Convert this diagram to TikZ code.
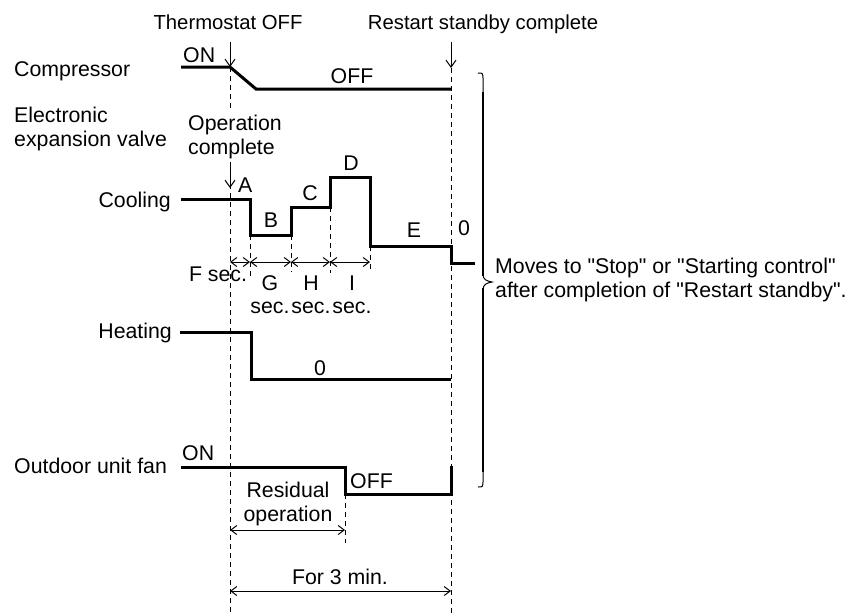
\documentclass[tikz,border=0pt]{standalone}
\usepackage{fontspec}
\setmainfont{Liberation Sans}
\usetikzlibrary{arrows.meta}

\begin{document}
\begin{tikzpicture}[
    x=1pt, y=-1pt,
    every node/.style={font=\fontsize{21.3}{24.5}\selectfont, inner sep=0pt},
    header/.style={font=\fontsize{20.3}{24}\selectfont, anchor=base},
    signal/.style={line width=3pt},
    guide/.style={line width=1pt, dash pattern=on 5pt off 4pt},
    marker/.style={-{Straight Barb[length=7pt, width=10pt]}, line width=1pt},
    span/.style={{Straight Barb[length=6pt, width=9pt]}-{Straight Barb[length=6pt, width=9pt]}, line width=1pt},
    hook/.style={line width=1pt},
    bar/.style={line width=2.6pt},
]

%% --- Canvas ---
\fill[white] (0,0) rectangle (850,614);
\useasboundingbox (0,0) rectangle (850,614);

%% --- Event headers ---
\node[header] (thermo) at (228,29) {Thermostat OFF};
\node[header] (restart) at (483,29) {Restart standby complete};

%% --- Time marks ---
\coordinate (offtop) at (230,42);
\coordinate (off) at (230,67);
\coordinate (offbot) at (230,614);
\coordinate (rsttop) at (451,42);
\coordinate (rst) at (451,68);
\coordinate (rstbot) at (451,614);

\draw[guide] (off) -- (offbot);
\draw[guide] (rst) -- (rstbot);
\draw[marker] (offtop) -- (off);
\draw[marker] (rsttop) -- (rst);

%% --- Row labels ---
\node[anchor=base west] (comp) at (14,76) {Compressor};
\node[anchor=west, align=left] (eev) at (14,129) {Electronic\\expansion valve};
\node[anchor=base east] (cool) at (171,207) {Cooling};
\node[anchor=base east] (heat) at (172,338) {Heating};
\node[anchor=base west] (fan) at (14,473) {Outdoor unit fan};

%% --- Compressor ---
\draw[signal] (181,67) -- (230,67) -- (256,89) -- (451,89);
\node[anchor=base west] (compon) at (183,62) {ON};
\node[anchor=base] (compoff) at (352,83) {OFF};

%% --- Expansion valve: cooling ---
\node[anchor=west, align=left, fill=white, inner ysep=4pt] (opdone) at (188,137) {Operation\\complete};
\coordinate (opstart) at (230,162);
\coordinate (opend) at (230,188);
\draw[marker] (opstart) -- (opend);
\node[anchor=base west] (stepa) at (238,192) {A};

\draw[signal] (181,199) -- (250,199) -- (250,235) -- (291,235) -- (291,207)
    -- (330,207) -- (330,177) -- (370,177) -- (370,246) -- (451,246)
    -- (451,263) -- (475,263);
\node[anchor=base] (stepb) at (271,227) {B};
\node[anchor=base] (stepc) at (310,200) {C};
\node[anchor=base] (stepd) at (351,170) {D};
\node[anchor=base] (stepe) at (414,237) {E};
\node[anchor=base] (stepz) at (464,235) {0};

%% --- Step durations ---
\coordinate (dur0) at (230,262);
\coordinate (dur1) at (250,262);
\coordinate (dur2) at (291,262);
\coordinate (dur3) at (330,262);
\coordinate (dur4) at (370,262);
\draw[guide] (250,235) -- (250,278);
\draw[guide] (291,235) -- (291,272);
\draw[guide] (330,207) -- (330,273);
\draw[guide] (370,246) -- (370,272);
\draw[span] (dur0) -- (dur1);
\draw[span] (dur1) -- (dur2);
\draw[span] (dur2) -- (dur3);
\draw[span] (dur3) -- (dur4);

\node[anchor=base] (secf) at (218,281) {F sec.};
\node[anchor=base] (secg) at (270,290) {G};
\node[anchor=base] (sech) at (311,290) {H};
\node[anchor=base] (seci) at (352,290) {I};
\node[anchor=base] (secgu) at (270,313) {sec.};
\node[anchor=base] (sechu) at (311,313) {sec.};
\node[anchor=base] (seciu) at (352,313) {sec.};

%% --- Expansion valve: heating ---
\draw[signal] (180,332) -- (251,332) -- (251,379) -- (451,379);
\node[anchor=base] (heatz) at (320,375) {0};

%% --- Outdoor unit fan ---
\draw[signal] (181,467) -- (345,467) -- (345,494) -- (451,494) -- (451,466);
\node[anchor=base west] (fanon) at (182,460) {ON};
\node[anchor=base west] (fanoff) at (350,488) {OFF};

\node[align=center] (resid) at (288,504) {Residual\\operation};
\coordinate (residend) at (345,530);
\draw[guide] (345,494) -- (345,543);
\draw[span] (230,530) -- (residend);

%% --- Restart standby ---
\node[anchor=base] (three) at (340,584) {For 3 min.};
\coordinate (threel) at (230,591);
\coordinate (threer) at (451,591);
\draw[span] (threel) -- (threer);

%% --- Brace and note ---
\draw[hook] (478,73) .. controls (483,73) .. (483,80) -- (483,94);
\draw[bar] (483,92) -- (483,276);
\draw[hook] (483,274) .. controls (483,280) and (487,281) .. (492,282)
    .. controls (487,283) and (483,284) .. (483,290);
\draw[bar] (483,288) -- (483,472);
\draw[hook] (483,470) -- (483,480) .. controls (483,487) .. (478,487);
\node[anchor=west, align=left] (note) at (495,280)
    {Moves to \textquotedbl Stop\textquotedbl{} or \textquotedbl Starting control\textquotedbl\\after completion of \textquotedbl Restart standby\textquotedbl.};

\end{tikzpicture}
\end{document}
